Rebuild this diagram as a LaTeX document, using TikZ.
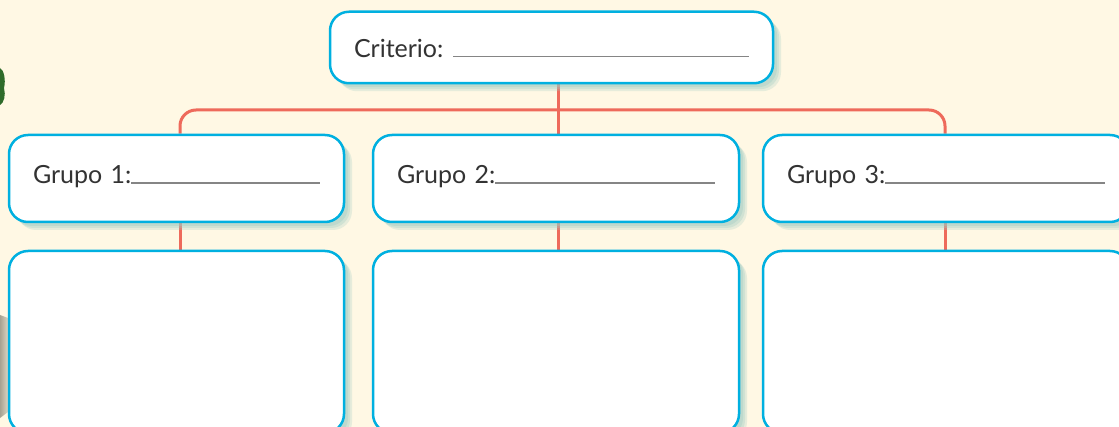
\documentclass[tikz,border=0pt]{standalone}
\usepackage{fontspec}
\setmainfont{Lato}
\usetikzlibrary{positioning,backgrounds}
\definecolor{cream}{HTML}{FFF8E4}
\definecolor{sky}{HTML}{00B0E0}
\definecolor{coral}{HTML}{EE6A5B}
\definecolor{ink}{HTML}{333333}
\definecolor{rulegray}{HTML}{858585}
\definecolor{haze}{HTML}{9FCBC3}
\definecolor{leaf}{HTML}{2F6B2A}
\definecolor{stone}{HTML}{A7A291}
\newcommand{\blank}{{\color{rulegray}\leaders\hrule height 0.75pt\hskip 0pt plus 1fill}}
\tikzset{
  haze shadow/.style={
    preaction={fill=haze,opacity=0.25,transform canvas={xshift=4pt,yshift=-4pt}},
    preaction={fill=haze,opacity=0.3,transform canvas={xshift=3pt,yshift=-3pt}},
    preaction={fill=haze,opacity=0.35,transform canvas={xshift=2pt,yshift=-2pt}}},
  card/.style={draw=sky,fill=white,line width=1.25pt,rounded corners=9.5pt,haze shadow},
  headbox/.style={card,font=\fontsize{12.5}{15}\selectfont,text=ink,align=left,inner xsep=12pt},
  grupobox/.style={headbox,minimum height=43.5pt,text height=9pt,text depth=3.5pt},
  answerbox/.style={card,minimum height=91pt},
  link/.style={draw=coral,line width=1.5pt},
}
\begin{document}
\begin{tikzpicture}[x=0.5pt,y=-0.5pt]
  \useasboundingbox (0,0) rectangle (1119,427);
  \node[headbox,minimum width=221.5pt,minimum height=35.75pt,text width=197.5pt,
    inner xsep=12pt,text height=11pt,text depth=1.2pt] (crit) at (551.5,47.5) {Criterio:\hspace{5pt}\blank};
  \node[grupobox,minimum width=167.5pt,text width=143.5pt] (g1) at (176.5,178.5) {Grupo 1:\blank};
  \node[grupobox,minimum width=183pt,text width=159pt,right=13.25pt of g1] (g2) {Grupo 2:\blank};
  \node[grupobox,minimum width=183pt,text width=159pt,right=10.75pt of g2] (g3) {Grupo 3:\blank};
  \node[answerbox,minimum width=167.5pt,below=13.25pt of g1] (c1) {};
  \node[answerbox,minimum width=183pt,below=13.25pt of g2] (c2) {};
  \node[answerbox,minimum width=183pt,below=13.25pt of g3] (c3) {};
  \coordinate (j1) at (180,110);
  \coordinate (j2) at (558,110);
  \coordinate (j3) at (945,110);
  \begin{scope}[on background layer]
    \fill[cream] (0,0) rectangle (1119,427);
    % left edge of the photo
    \fill[leaf] (0,68) .. controls (4,70) and (6,80) .. (4,88) .. controls (6,95) and (4,103) .. (0,105) -- cycle;
    \shade[left color=stone,right color=stone!40!cream] (0,315) -- (8,318) -- (8,412) -- (0,418) -- cycle;
    \draw[link] (crit.south -| j2) -- (g2.north -| j2);
    \draw[link,rounded corners=8pt] (g1.north -| j1) -- (j1) -- (j3) -- (g3.north -| j3);
    \foreach \i in {1,2,3}
      \draw[link] (g\i.south -| j\i) -- (c\i.north -| j\i);
  \end{scope}
\end{tikzpicture}
\end{document}
